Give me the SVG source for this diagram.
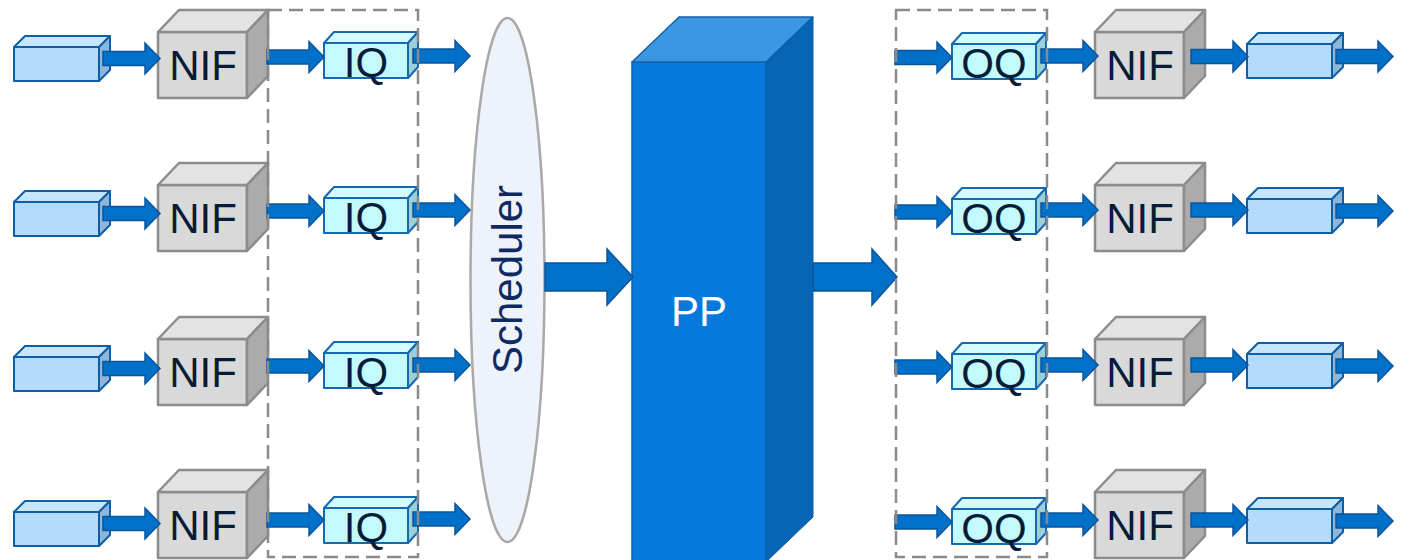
<svg xmlns="http://www.w3.org/2000/svg" width="1401" height="560" viewBox="0 0 1401 560">
  <style>
    .lbl { font-family: "Liberation Sans", Arial, sans-serif; fill: #081c38; font-size: 42px; text-anchor: middle; }
    .nif-f { fill: #d9d9d9; stroke: #8c8c8c; stroke-width: 2.5; stroke-linejoin: round; }
    .nif-t { fill: #e3e3e3; stroke: #8c8c8c; stroke-width: 2.5; stroke-linejoin: round; }
    .nif-s { fill: #ababab; stroke: #8c8c8c; stroke-width: 2.5; stroke-linejoin: round; }
    .bx-f { fill: #b3dcfc; stroke: #0f5fa6; stroke-width: 2; stroke-linejoin: round; }
    .bx-t { fill: #c6e6fd; stroke: #0f5fa6; stroke-width: 2; stroke-linejoin: round; }
    .bx-s { fill: #8fb6d8; stroke: #0f5fa6; stroke-width: 2; stroke-linejoin: round; }
    .q-f { fill: #c2fafe; stroke: #1668b0; stroke-width: 2; stroke-linejoin: round; }
    .q-t { fill: #d4fcff; stroke: #1668b0; stroke-width: 2; stroke-linejoin: round; }
    .q-s { fill: #9dcfd6; stroke: #1668b0; stroke-width: 2; stroke-linejoin: round; }
    .arr { fill: #0070c8; stroke: #0b559c; stroke-width: 1.5; stroke-linejoin: miter; }
    .dash { fill: none; stroke: #8a8a8a; stroke-width: 2.5; stroke-dasharray: 14 7; }
  </style>
  <defs>
    <!-- small block arrow, tail at origin, tip at x=57 -->
    <path id="sarrow" class="arr" d="M0,-7 H42 V-15.5 L57,0 L42,15.5 V7 H0 Z"/>
    <!-- input/output cube (front 85x34, depth 11) -->
    <g id="port">
      <rect class="bx-f" x="0" y="0" width="85" height="34"/>
      <path class="bx-t" d="M0,0 L11,-11 H96 L85,0 Z"/>
      <path class="bx-s" d="M85,0 L96,-11 V23 L85,34 Z"/>
    </g>
    <!-- queue cube (front 84x35, depth 10) -->
    <g id="queue">
      <rect class="q-f" x="0" y="0" width="84" height="35"/>
      <path class="q-t" d="M0,0 L10,-11 H94 L84,0 Z"/>
      <path class="q-s" d="M84,0 L94,-11 V24 L84,35 Z"/>
    </g>
    <!-- network interface cube (front 89x66, depth 21) -->
    <g id="nif">
      <rect class="nif-f" x="0" y="0" width="89" height="66"/>
      <path class="nif-t" d="M0,0 L21,-22 H110 L89,0 Z"/>
      <path class="nif-s" d="M89,0 L110,-22 V44 L89,66 Z"/>
    </g>
  </defs>

  <!-- input ports -->
  <g id="in1"><use href="#port" x="14" y="47"/></g>
  <g id="in2"><use href="#port" x="14" y="202"/></g>
  <g id="in3"><use href="#port" x="14" y="357"/></g>
  <g id="in4"><use href="#port" x="14" y="512"/></g>

  <!-- ingress NIFs -->
  <g id="nif-in1"><use href="#nif" x="158" y="32"/><text class="lbl" x="203" y="80">NIF</text></g>
  <g id="nif-in2"><use href="#nif" x="158" y="185"/><text class="lbl" x="203" y="233">NIF</text></g>
  <g id="nif-in3"><use href="#nif" x="158" y="339"/><text class="lbl" x="203" y="387">NIF</text></g>
  <g id="nif-in4"><use href="#nif" x="158" y="492"/><text class="lbl" x="203" y="540">NIF</text></g>

  <!-- input queues -->
  <g id="iq1"><use href="#queue" x="324" y="43"/><text class="lbl" x="366" y="77">IQ</text></g>
  <g id="iq2"><use href="#queue" x="324" y="198"/><text class="lbl" x="366" y="232">IQ</text></g>
  <g id="iq3"><use href="#queue" x="324" y="353"/><text class="lbl" x="366" y="387">IQ</text></g>
  <g id="iq4"><use href="#queue" x="324" y="508"/><text class="lbl" x="366" y="542">IQ</text></g>

  <!-- scheduler -->
  <g id="scheduler">
    <ellipse cx="507.5" cy="280" rx="37" ry="262" fill="#eef2fa" stroke="#a9a9a9" stroke-width="2.5"/>
    <text x="0" y="0" transform="translate(522,279.5) rotate(-90)" font-family="'Liberation Sans', Arial, sans-serif" font-size="42" fill="#0f2a63" text-anchor="middle">Scheduler</text>
  </g>

  <!-- packet processor -->
  <g id="pp">
    <rect x="632" y="62" width="134" height="500" fill="#0879dc" stroke="#1560a6" stroke-width="1.5"/>
    <path d="M632,62 L679,17 H813 L766,62 Z" fill="#3a97e4" stroke="#1560a6" stroke-width="1.5" stroke-linejoin="round"/>
    <path d="M766,62 L813,17 V517 L766,562 Z" fill="#0665b4" stroke="#0a5aa0" stroke-width="1"/>
    <text x="699" y="326" font-family="'Liberation Sans', Arial, sans-serif" font-size="42" fill="#ffffff" text-anchor="middle">PP</text>
  </g>

  <!-- output queues -->
  <g id="oq1"><use href="#queue" x="952" y="44"/><text class="lbl" x="994" y="78">OQ</text></g>
  <g id="oq2"><use href="#queue" x="952" y="199"/><text class="lbl" x="994" y="233">OQ</text></g>
  <g id="oq3"><use href="#queue" x="952" y="354"/><text class="lbl" x="994" y="388">OQ</text></g>
  <g id="oq4"><use href="#queue" x="952" y="509"/><text class="lbl" x="994" y="543">OQ</text></g>

  <!-- egress NIFs -->
  <g id="nif-out1"><use href="#nif" x="1095" y="32"/><text class="lbl" x="1140" y="80">NIF</text></g>
  <g id="nif-out2"><use href="#nif" x="1095" y="185"/><text class="lbl" x="1140" y="233">NIF</text></g>
  <g id="nif-out3"><use href="#nif" x="1095" y="339"/><text class="lbl" x="1140" y="387">NIF</text></g>
  <g id="nif-out4"><use href="#nif" x="1095" y="492"/><text class="lbl" x="1140" y="540">NIF</text></g>

  <!-- output ports -->
  <g id="out1"><use href="#port" x="1247" y="44"/></g>
  <g id="out2"><use href="#port" x="1247" y="199"/></g>
  <g id="out3"><use href="#port" x="1247" y="354"/></g>
  <g id="out4"><use href="#port" x="1247" y="509"/></g>

  <!-- connectors -->
  <g id="connectors">
    <!-- port to NIF -->
    <use href="#sarrow" x="103" y="58.5"/>
    <use href="#sarrow" x="103" y="213.5"/>
    <use href="#sarrow" x="103" y="368.5"/>
    <use href="#sarrow" x="103" y="523.5"/>
    <!-- NIF to IQ -->
    <use href="#sarrow" x="267" y="57"/>
    <use href="#sarrow" x="267" y="211"/>
    <use href="#sarrow" x="267" y="366"/>
    <use href="#sarrow" x="267" y="520"/>
    <!-- IQ to scheduler -->
    <use href="#sarrow" x="413" y="56"/>
    <use href="#sarrow" x="413" y="210"/>
    <use href="#sarrow" x="413" y="365"/>
    <use href="#sarrow" x="413" y="519"/>
    <!-- scheduler to PP, PP to output stage -->
    <path class="arr" d="M545,263 H607 V249 L633,277 L607,305 V291 H545 Z"/>
    <path class="arr" d="M813,263 H872 V249 L897,277 L872,305 V291 H813 Z"/>
    <!-- into OQ -->
    <use href="#sarrow" x="895" y="57.5"/>
    <use href="#sarrow" x="895" y="212"/>
    <use href="#sarrow" x="895" y="367"/>
    <use href="#sarrow" x="895" y="522"/>
    <!-- OQ to NIF -->
    <use href="#sarrow" x="1041" y="56"/>
    <use href="#sarrow" x="1041" y="210"/>
    <use href="#sarrow" x="1041" y="365"/>
    <use href="#sarrow" x="1041" y="520"/>
    <!-- NIF to port -->
    <use href="#sarrow" x="1191" y="56.5"/>
    <use href="#sarrow" x="1191" y="210"/>
    <use href="#sarrow" x="1191" y="365"/>
    <use href="#sarrow" x="1191" y="520"/>
    <!-- port out -->
    <use href="#sarrow" x="1336" y="56.5"/>
    <use href="#sarrow" x="1336" y="211"/>
    <use href="#sarrow" x="1336" y="366"/>
    <use href="#sarrow" x="1336" y="521"/>
  </g>

  <!-- queue group outlines -->
  <rect id="iq-group" class="dash" x="268" y="10" width="150" height="547"/>
  <rect id="oq-group" class="dash" x="896" y="10" width="151" height="547"/>
</svg>
